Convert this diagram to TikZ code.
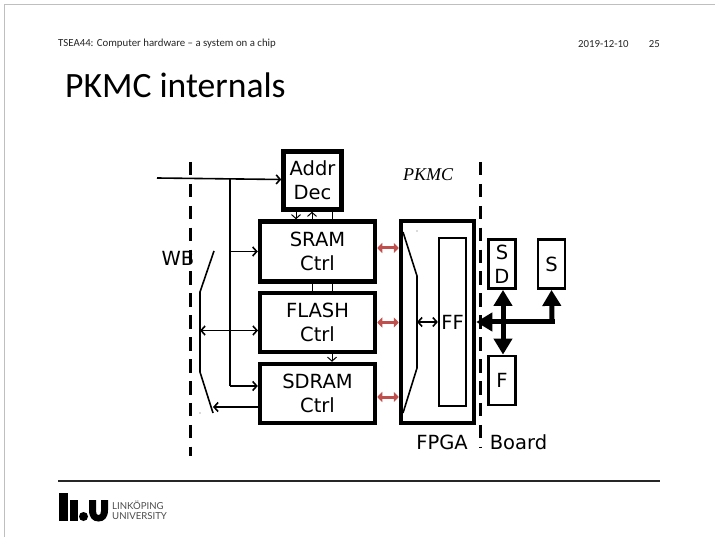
\documentclass[tikz,border=0pt]{standalone}
\usepackage{fontspec}
\setmainfont{DejaVu Sans}
\newfontfamily\carl{Carlito}
\newfontfamily\lato{Lato}
\newfontfamily\chanc{Liberation Serif}
\usetikzlibrary{arrows.meta,calc}
\definecolor{redarr}{HTML}{C0504D}
\tikzset{
  ctrl/.style={draw=black,line width=4.5pt,minimum width=115pt,minimum height=60pt,inner sep=0pt,align=center,font=\fontsize{19.5}{24}\selectfont,fill=white},
  mem/.style={draw=black,line width=2.8pt,minimum width=27pt,minimum height=49pt,inner sep=0pt,align=center,font=\fontsize{19.5}{24}\selectfont},
  lbl/.style={inner sep=0pt,font=\fontsize{19.5}{24}\selectfont},
  thin wire/.style={line width=1.6pt,draw=black},
  barb/.style={line width=1.6pt,{Straight Barb[length=4pt,width=9pt]}-{Straight Barb[length=4pt,width=9pt]}},
  barbr/.style={line width=1.6pt,-{Straight Barb[length=4pt,width=9pt]}},
  red arrow/.style={draw=redarr,line width=3pt,{Triangle[length=5pt,width=10pt]}-{Triangle[length=5pt,width=10pt]}},
  thick arrow/.style={line width=5pt,-{Triangle[length=16pt,width=18pt]}},
  bound/.style={line width=3pt,dash pattern=on 13.5pt off 8.4pt},
  hdrtxt/.style={inner sep=0pt,font=\carl\fontsize{10.8}{12}\selectfont,text=black!85},
  liutxt/.style={anchor=west,inner sep=0pt,font=\lato\fontsize{9.6}{11}\selectfont,text=black!70},
}
\begin{document}
\begin{tikzpicture}[x=1pt,y=-1pt]
\useasboundingbox (0,0) rectangle (715,537);
\fill[white] (0,0) rectangle (715,537);
\draw[black!25,line width=1pt] (4.5,537) -- (4.5,4.5) -- (715,4.5);
% header
\node[hdrtxt,anchor=west] (hdr) at (58,44) {TSEA44: Computer hardware – a system on a chip};
\node[hdrtxt,anchor=west] (date) at (578,44) {2019-12-10};
\node[hdrtxt,anchor=east] (num) at (660,44) {25};
\node[anchor=west,inner sep=0pt,font=\carl\fontsize{35.6}{38}\selectfont] (title) at (65,85) {PKMC internals};
% boundaries
\coordinate (b1t) at (190,162); \coordinate (b1b) at (190,456);
\coordinate (b2t) at (480,162); \coordinate (b2b) at (480,448);
\draw[bound] (b1t) -- (b1b);
\draw[bound] (b2t) -- (b2b);
% boxes
\node[ctrl,minimum width=58pt,minimum height=58pt] (addr) at (312.5,180.5) {Addr\\Dec};
\node[ctrl] (sram) at (317.5,251.5) {SRAM\\Ctrl};
\node[ctrl,minimum height=59pt] (flash) at (317.5,322.5) {FLASH\\Ctrl};
\node[ctrl,minimum height=59pt] (sdram) at (317.5,393.5) {SDRAM\\Ctrl};
\node[draw=black,line width=4.5pt,minimum width=73pt,minimum height=202pt,inner sep=0pt] (fpga) at (437.5,322) {};
\node[draw=black,line width=2.2pt,minimum width=27pt,minimum height=168pt,inner sep=0pt,font=\fontsize{19.5}{22}\selectfont] (ff) at (452.5,322) {FF};
\node[mem] (sd) at (502,264) {S\\D};
\node[mem] (s) at (551.5,264) {S};
\node[mem] (f) at (502,380.5) {F};
% labels
\node[lbl] (wb) at (178,258) {WB};
\node[lbl] (fpgal) at (442,442) {FPGA};
\node[lbl] (board) at (518.5,442) {Board};
\node[inner sep=0pt,font=\chanc\itshape\fontsize{18}{18}\selectfont] (pkmc) at (428,175) {PKMC};
% wishbone mux
\coordinate (wbin) at (157,178);
\coordinate (jt) at (230,179.5);
\coordinate (jb) at (230,386);
\coordinate (m1) at (214,251); \coordinate (m2) at (200,292); \coordinate (m3) at (200,372); \coordinate (m4) at (213,413);
\coordinate (mdot) at (200,413);
\coordinate (sdout) at (258,407); \coordinate (sdin) at (213,407);
\coordinate (flin) at (200,330.5); \coordinate (flport) at (258,330.5);
\draw[thin wire,line join=round] (m1) -- (m2) -- (m3) -- (m4);
\fill[black!60] (mdot) circle (0.6pt);
\draw[barbr] (wbin) -- (addr.west |- jt);
\draw[thin wire] (jt) -- (jb);
\draw[barbr] (jt |- sram.west) -- (sram.west);
\draw[barbr] (jb) -- (jb -| sdram.west);
\draw[barb] (flin) -- (flport);
\draw[barbr] (sdout) -- (sdin);
% inter-controller
\coordinate (x1) at (296,0); \coordinate (x2) at (312,0); \coordinate (x3) at (332,0);
\draw[barbr,line width=1pt] (addr.south -| x1) -- (sram.north -| x1);
\draw[barbr,line width=1pt] (sram.north -| x2) -- (addr.south -| x2);
\draw[line width=1pt] (addr.south -| x3) -- (sram.north -| x3);
\draw[line width=1pt] (sram.south -| x2) -- (flash.north -| x2);
\draw[line width=1pt] (sram.south -| x3) -- (flash.north -| x3);
\draw[barbr,line width=1pt] (flash.south -| x3) -- (sdram.north -| x3);
% red arrows
\draw[red arrow] ($(sram.east)+(0,-3.5)$) -- ($(sram.east -| fpga.west)+(0,-3.5)$);
\draw[red arrow] (flash.east) -- (flash.east -| fpga.west);
\draw[red arrow] ($(sdram.east)+(0,3.5)$) -- ($(sdram.east -| fpga.west)+(0,3.5)$);
% fpga mux
\coordinate (p1) at (403,232); \coordinate (p2) at (417,276); \coordinate (p3) at (417,368); \coordinate (p4) at (403,413);
\draw[thin wire,line join=round] (p1) -- (p2) -- (p3) -- (p4);
\fill[black!60] (417,231) circle (0.6pt);
\draw[barb] (p2 |- ff.west) -- (ff.west);
% thick arrows
\coordinate (bus) at (552,322);
\draw[line width=5pt,-{Triangle[length=16pt,width=18pt]}] ($(bus)+(2.5,0)$) -- (fpga.east |- bus);
\draw[thick arrow] (bus) -- (s.south);
\draw[line width=5pt,{Triangle[length=16pt,width=18pt]}-{Triangle[length=16pt,width=18pt]}] ($(sd.south)+(1,0)$) -- ($(f.north)+(1,0)$);
% footer
\coordinate (fl) at (58,481); \coordinate (fr) at (660,481);
\draw[line width=1.3pt,black!85] (fl) -- (fr);
% logo
\fill[black] (59,493) rectangle (68,521);
\fill[black] (70,500) rectangle (78,521);
\fill[black] (83.5,516.5) circle (4.5pt);
\fill[black] (89,500) -- (96,500) -- (96,511) .. controls (96,514) and (97,515) .. (98.5,515) .. controls (100,515) and (101,514) .. (101,511) -- (101,500) -- (108,500) -- (108,510) .. controls (108,518) and (104,521.5) .. (98.5,521.5) .. controls (93,521.5) and (89,518) .. (89,510) -- cycle;
\node[liutxt] (liu1) at (112,505) {LINKÖPING};
\node[liutxt] (liu2) at (112,516) {UNIVERSITY};
\end{tikzpicture}
\end{document}
